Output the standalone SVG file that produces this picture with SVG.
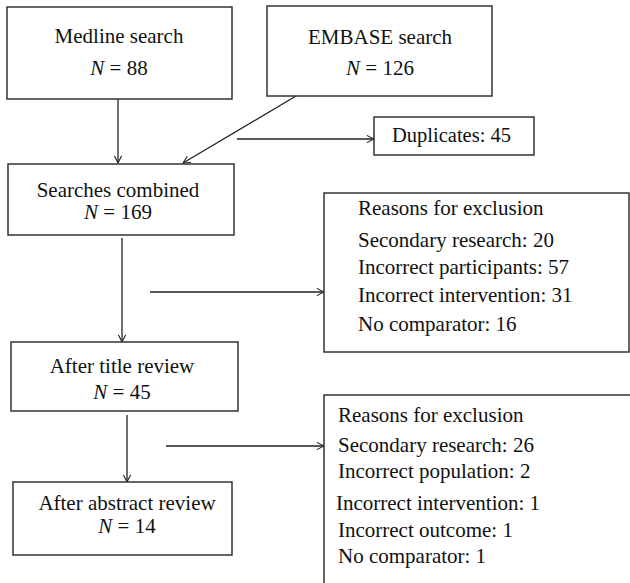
<svg xmlns="http://www.w3.org/2000/svg" width="630" height="583" viewBox="0 0 630 583">
<defs>
<marker id="arr" viewBox="0 0 10 10" refX="10" refY="5" markerWidth="8" markerHeight="8" markerUnits="userSpaceOnUse" orient="auto">
<path d="M1,0.5 L10,5 L1,9.5" fill="none" stroke="#222" stroke-width="1.3"/>
</marker>
</defs>
<style>
.box{fill:#fff;stroke:#333;stroke-width:1.5}
.t{font-family:"Liberation Serif","Times New Roman",serif;font-size:21px;fill:#111}
.m{text-anchor:middle}
.s{font-size:21px}
.d{font-size:20.5px}
.c{fill:none;stroke:#222;stroke-width:1.3;marker-end:url(#arr)}
</style>
<rect width="630" height="583" fill="#fff"/>
<g id="connectors">
<line class="c" x1="118" y1="99" x2="118" y2="163"/>
<line class="c" x1="296" y1="96" x2="183" y2="163"/>
<line class="c" x1="237" y1="139" x2="374" y2="139"/>
<line class="c" x1="122" y1="238" x2="122" y2="342"/>
<line class="c" x1="150" y1="292" x2="324" y2="292"/>
<line class="c" x1="127" y1="415" x2="127" y2="482"/>
<line class="c" x1="166" y1="446" x2="324" y2="446"/>
</g>
<g id="medline">
<rect class="box" x="7" y="7" width="225" height="92"/>
<text class="t m" x="119" y="43">Medline search</text>
<text class="t m" x="119" y="75"><tspan font-style="italic">N</tspan> = 88</text>
</g>
<g id="embase">
<rect class="box" x="267" y="6" width="225" height="90"/>
<text class="t m" x="380" y="44">EMBASE search</text>
<text class="t m" x="380" y="75"><tspan font-style="italic">N</tspan> = 126</text>
</g>
<g id="duplicates">
<rect class="box" x="374" y="117" width="160" height="38"/>
<text class="t d" x="392" y="142">Duplicates: 45</text>
</g>
<g id="combined">
<rect class="box" x="8" y="164" width="226" height="71"/>
<text class="t m" x="118" y="197">Searches combined</text>
<text class="t m" x="118" y="219"><tspan font-style="italic">N</tspan> = 169</text>
</g>
<g id="exclusion1">
<rect class="box" x="324" y="193" width="305" height="159"/>
<text class="t s" x="358" y="215">Reasons for exclusion</text>
<text class="t s" x="358" y="247">Secondary research: 20</text>
<text class="t s" x="358" y="274">Incorrect participants: 57</text>
<text class="t s" x="358" y="302">Incorrect intervention: 31</text>
<text class="t s" x="358" y="331">No comparator: 16</text>
</g>
<g id="title">
<rect class="box" x="11" y="342" width="227" height="69"/>
<text class="t m" x="122" y="373">After title review</text>
<text class="t m" x="122" y="399"><tspan font-style="italic">N</tspan> = 45</text>
</g>
<g id="abstract">
<rect class="box" x="13" y="482" width="219" height="73"/>
<text class="t m" x="127" y="510">After abstract review</text>
<text class="t m" x="127" y="533"><tspan font-style="italic">N</tspan> = 14</text>
</g>
<g id="exclusion2">
<rect class="box" x="324" y="395" width="320" height="200"/>
<text class="t s" x="338" y="422">Reasons for exclusion</text>
<text class="t s" x="338" y="452">Secondary research: 26</text>
<text class="t s" x="338" y="478">Incorrect population: 2</text>
<text class="t s" x="336" y="510">Incorrect intervention: 1</text>
<text class="t s" x="338" y="537">Incorrect outcome: 1</text>
<text class="t s" x="338" y="563">No comparator: 1</text>
</g>
</svg>
